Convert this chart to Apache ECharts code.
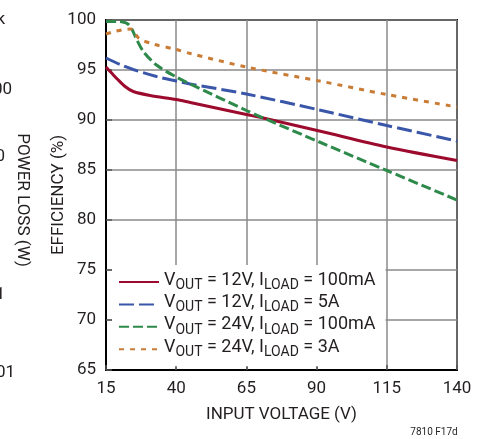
<!DOCTYPE html>
<html>
<head>
<meta charset="utf-8">
<script src="https://cdn.jsdelivr.net/npm/echarts@6/dist/echarts.min.js"></script>
<style>
  html, body { margin: 0; padding: 0; background: #fff; }
  #chart { width: 488px; height: 439px; }
</style>
</head>
<body>
<div id="chart"></div>
<script>
var FONT = "Roboto, 'Liberation Sans', sans-serif";
var INK = '#231f20';

// input voltage (V), efficiency (%)
var xTicks = [15, 140, 25];
var yTicks = [65, 100, 5];

var seriesNames = ['v12_100m', 'v12_5a', 'v24_100m', 'v24_3a'];
var legendLabels = {
    v12_100m: ['12V', '100mA'],
    v12_5a: ['12V', '5A'],
    v24_100m: ['24V', '100mA'],
    v24_3a: ['24V', '3A']
};

var red12_100m = [[15, 95.3], [17, 94.7], [19, 94.1], [21.8, 93.35], [24.7, 92.85], [30.7, 92.45],
    [40, 92.05], [45, 91.75], [65, 90.55], [71, 90.2], [91, 88.9], [115, 87.3], [140, 85.95]];
var blue12_5a = [[15, 96.2], [20, 95.55], [24.7, 95.05], [33, 94.35], [40, 93.9], [45, 93.6],
    [65, 92.6], [91, 91.0], [115, 89.45], [140, 87.9]];
var green24_100m = [[15, 99.85], [19, 99.85], [21, 99.8], [22.8, 99.6], [24.2, 99.1], [25.5, 98.3],
    [28.3, 96.85], [33, 95.5], [40, 94.3], [45, 93.6], [65, 90.95], [71, 90.2], [91, 87.8],
    [115, 84.95], [140, 82.0]];
var orange24_3a = [[15, 98.6], [18, 98.85], [21.4, 99.05], [23.8, 99.1], [25, 98.8], [26.8, 98.15],
    [31.8, 97.6], [40, 97.05], [45, 96.65], [65, 95.3], [91, 93.9], [115, 92.55], [140, 91.3]];

function line(name, data, color, type) {
    return {
        name: name,
        type: 'line',
        data: data,
        symbol: 'none',
        smooth: 0.3,
        lineStyle: { color: color, width: 3, type: type, cap: 'butt' },
        itemStyle: { color: color }
    };
}

var myChart = echarts.init(document.getElementById('chart'));
var option = {
    animation: false,
    backgroundColor: '#fff',
    textStyle: { fontFamily: FONT },
    grid: {
        left: 106, right: 31, top: 20, bottom: 69,
        show: true, borderColor: '#000', borderWidth: 2,
        outerBoundsMode: 'none'
    },
    xAxis: {
        type: 'value',
        min: xTicks[0], max: xTicks[1], interval: xTicks[2],
        name: 'INPUT VOLTAGE (V)',
        nameLocation: 'middle',
        nameGap: 36,
        nameMoveOverlap: false,
        nameTextStyle: { fontFamily: FONT, fontSize: 17, color: INK },
        axisLine: { lineStyle: { color: '#000', width: 2 } },
        axisTick: { inside: true, length: 5, lineStyle: { color: '#555', width: 1.5 } },
        axisLabel: { fontFamily: FONT, fontSize: 17, color: INK, margin: 10 },
        splitLine: { lineStyle: { color: '#8a8a8a', width: 1.5 } }
    },
    yAxis: {
        type: 'value',
        min: yTicks[0], max: yTicks[1], interval: yTicks[2],
        name: 'EFFICIENCY (%)',
        nameLocation: 'middle',
        nameGap: 39,
        nameMoveOverlap: false,
        nameTextStyle: { fontFamily: FONT, fontSize: 17, color: INK },
        axisLine: { lineStyle: { color: '#000', width: 2 } },
        axisTick: { inside: true, length: 6, lineStyle: { color: '#555', width: 1.5 } },
        axisLabel: { fontFamily: FONT, fontSize: 17, color: INK, margin: 10 },
        splitLine: { lineStyle: { color: '#8a8a8a', width: 1.5 } }
    },
    legend: {
        orient: 'vertical',
        left: 112, top: 265,
        padding: [6, 10, 6, 6],
        backgroundColor: '#fff',
        itemWidth: 40, itemHeight: 14, itemGap: 0.4,
        itemStyle: { color: 'rgba(0,0,0,0)', borderWidth: 0 },
        data: seriesNames,
        formatter: function (n) {
            var l = legendLabels[n];
            return '{n|V}{s|OUT}{n| = ' + l[0] + ', I}{s|LOAD}{n| = ' + l[1] + '}';
        },
        textStyle: {
            fontFamily: FONT, color: INK,
            rich: {
                n: { fontFamily: FONT, fontSize: 18, lineHeight: 17, padding: [0, 0, 4, 0], color: INK },
                s: { fontFamily: FONT, fontSize: 14, lineHeight: 14, padding: [7, 0, 0, 0], color: INK }
            }
        }
    },
    graphic: [
        { type: 'text', x: 5, y: 20, style: { text: 'k', font: '17px ' + FONT, fill: INK, align: 'right', verticalAlign: 'middle' } },
        { type: 'text', x: 12, y: 90, style: { text: '00', font: '17px ' + FONT, fill: INK, align: 'right', verticalAlign: 'middle' } },
        { type: 'text', x: 5, y: 157, style: { text: '0', font: '17px ' + FONT, fill: INK, align: 'right', verticalAlign: 'middle' } },
        { type: 'text', x: 5, y: 295, style: { text: '1', font: '17px ' + FONT, fill: INK, align: 'right', verticalAlign: 'middle' } },
        { type: 'text', x: 15, y: 373, style: { text: '01', font: '17px ' + FONT, fill: INK, align: 'right', verticalAlign: 'middle' } },
        { type: 'text', x: 22.5, y: 200, rotation: -Math.PI / 2,
          style: { text: 'POWER LOSS (W)', font: '17px ' + FONT, fill: INK, align: 'center', verticalAlign: 'middle' } },
        { type: 'text', x: 434, y: 432, style: { text: '7810 F17d', font: '10px ' + FONT, fill: INK, align: 'center', verticalAlign: 'middle' } }
    ],
    series: [
        line('v12_100m', red12_100m, '#9c0a2e', 'solid'),
        line('v12_5a', blue12_5a, '#3a56a8', [15, 5]),
        line('v24_100m', green24_100m, '#2e8a4a', [10, 4]),
        line('v24_3a', orange24_3a, '#c97c35', [5, 6])
    ]
};
myChart.setOption(option);
</script>
</body>
</html>
